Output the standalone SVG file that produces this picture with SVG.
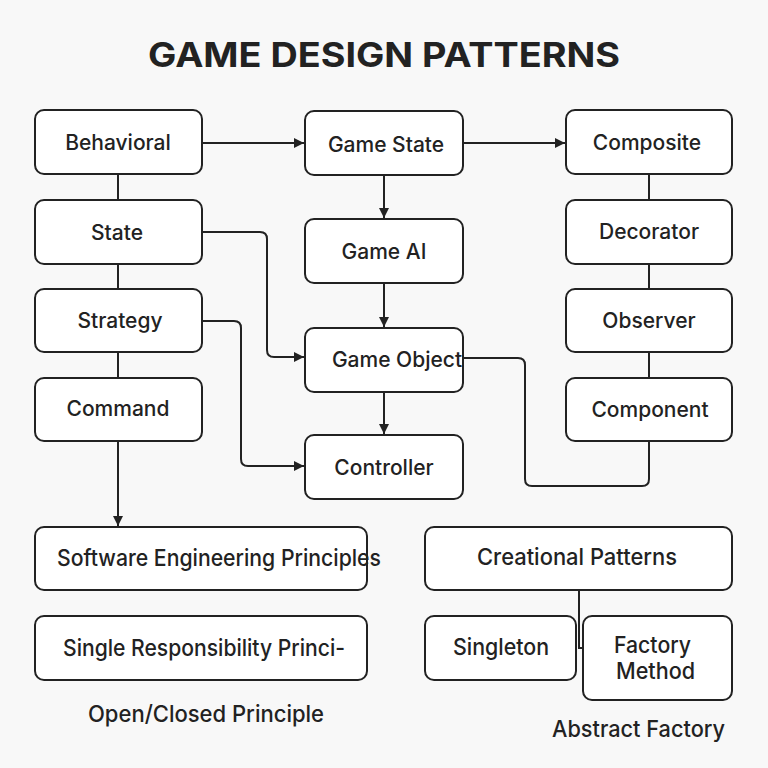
<svg xmlns="http://www.w3.org/2000/svg" width="768" height="768" viewBox="0 0 768 768">
<defs>
<marker id="arr" viewBox="0 0 10 10" refX="10" refY="5" markerWidth="10" markerHeight="10" markerUnits="userSpaceOnUse" orient="auto">
<path d="M0,0 L10,5 L0,10 z" fill="#222"/>
</marker>
<style>
.box{fill:#fff;stroke:#222;stroke-width:2}
.lbl{font-family:Inter,"Liberation Sans",sans-serif;font-size:21px;font-weight:500;fill:#222;text-anchor:middle;dominant-baseline:central}
.nar{font-family:Inter,"Liberation Sans",sans-serif;font-size:23px;font-weight:500;fill:#222;dominant-baseline:central}
.ln{fill:none;stroke:#222;stroke-width:2}
.title{font-family:Inter,"Liberation Sans",sans-serif;font-size:34px;font-weight:700;fill:#222;text-anchor:middle}
</style>
</defs>
<rect width="768" height="768" fill="#f8f8f8"/>
<text class="title" x="384" y="67" textLength="472" lengthAdjust="spacingAndGlyphs">GAME DESIGN PATTERNS</text>
<g id="connectors">
<path class="ln" d="M202,143 H304" marker-end="url(#arr)"/>
<path class="ln" d="M463,143 H565" marker-end="url(#arr)"/>
<path class="ln" d="M118,174 V200 M118,264 V289 M118,352 V378"/>
<path class="ln" d="M118,441 V526" marker-end="url(#arr)"/>
<path class="ln" d="M384,175 V218" marker-end="url(#arr)"/>
<path class="ln" d="M384,283 V327" marker-end="url(#arr)"/>
<path class="ln" d="M384,392 V434" marker-end="url(#arr)"/>
<path class="ln" d="M202,232 H260 Q267,232 267,239 V350 Q267,357 274,357 H304" marker-end="url(#arr)"/>
<path class="ln" d="M202,321 H234 Q241,321 241,328 V459 Q241,466 248,466 H304" marker-end="url(#arr)"/>
<path class="ln" d="M463,358 H518 Q525,358 525,365 V479 Q525,486 532,486 H642 Q649,486 649,479 V441"/>
<path class="ln" d="M649,174 V200 M649,264 V289 M649,352 V378"/>
<path class="ln" d="M579,590 V648 H583"/>
</g>
<g id="behavioral"><rect class="box" x="35" y="110" width="167" height="64" rx="9"/><text class="lbl" x="118" y="142">Behavioral</text></g>
<g id="state"><rect class="box" x="35" y="200" width="167" height="64" rx="9"/><text class="lbl" x="117" y="232">State</text></g>
<g id="strategy"><rect class="box" x="35" y="289" width="167" height="63" rx="9"/><text class="lbl" x="120" y="320">Strategy</text></g>
<g id="command"><rect class="box" x="35" y="378" width="167" height="63" rx="9"/><text class="lbl" x="118" y="408">Command</text></g>
<g id="game-state"><rect class="box" x="305" y="111" width="158" height="64" rx="9"/><text class="lbl" x="386" y="144">Game State</text></g>
<g id="game-ai"><rect class="box" x="305" y="219" width="158" height="64" rx="9"/><text class="lbl" x="384" y="251">Game AI</text></g>
<g id="game-object"><rect class="box" x="305" y="328" width="158" height="64" rx="9"/><text class="lbl" x="397" y="359">Game Object</text></g>
<g id="controller"><rect class="box" x="305" y="435" width="158" height="64" rx="9"/><text class="lbl" x="384" y="467">Controller</text></g>
<g id="composite"><rect class="box" x="566" y="110" width="166" height="64" rx="9"/><text class="lbl" x="647" y="142">Composite</text></g>
<g id="decorator"><rect class="box" x="566" y="200" width="166" height="64" rx="9"/><text class="lbl" x="649" y="231">Decorator</text></g>
<g id="observer"><rect class="box" x="566" y="289" width="166" height="63" rx="9"/><text class="lbl" x="649" y="320">Observer</text></g>
<g id="component"><rect class="box" x="566" y="378" width="166" height="63" rx="9"/><text class="lbl" x="650" y="409">Component</text></g>
<g id="software-engineering"><rect class="box" x="35" y="527" width="332" height="63" rx="9"/><text class="nar" x="57" y="558" textLength="324" lengthAdjust="spacingAndGlyphs">Software Engineering Principles</text></g>
<g id="single-responsibility"><rect class="box" x="35" y="616" width="332" height="64" rx="9"/><text class="nar" x="63" y="648" textLength="282" lengthAdjust="spacingAndGlyphs">Single Responsibility Princi-</text></g>
<g id="open-closed"><text class="nar" x="88" y="714" textLength="236" lengthAdjust="spacingAndGlyphs">Open/Closed Principle</text></g>
<g id="creational"><rect class="box" x="425" y="527" width="307" height="63" rx="9"/><text class="nar" x="477" y="557" textLength="200" lengthAdjust="spacingAndGlyphs">Creational Patterns</text></g>
<g id="singleton"><rect class="box" x="425" y="616" width="151" height="64" rx="9"/><text class="nar" x="453" y="647" textLength="96" lengthAdjust="spacingAndGlyphs">Singleton</text></g>
<g id="factory-method"><rect class="box" x="583" y="616" width="149" height="84" rx="9"/><text class="nar" x="614" y="645" textLength="77" lengthAdjust="spacingAndGlyphs">Factory</text><text class="nar" x="616" y="671" textLength="79" lengthAdjust="spacingAndGlyphs">Method</text></g>
<g id="abstract-factory"><text class="nar" x="552" y="729" textLength="173" lengthAdjust="spacingAndGlyphs">Abstract Factory</text></g>
</svg>
